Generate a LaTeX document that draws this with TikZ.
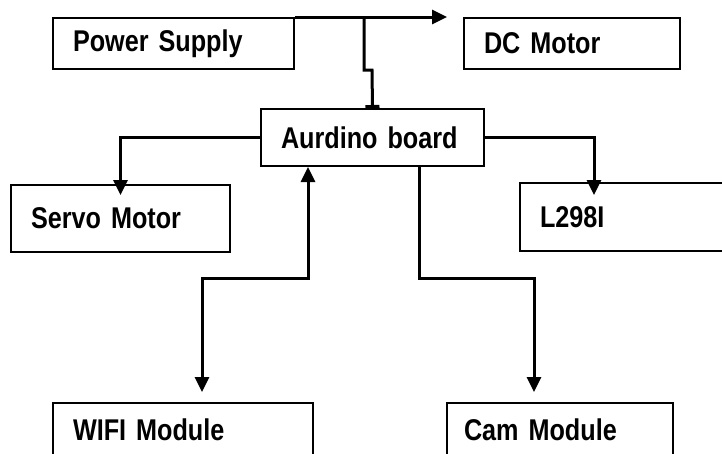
\documentclass[tikz,border=0pt]{standalone}
\usepackage{fontspec}
\setmainfont[FakeStretch=0.84]{Liberation Sans}
\usetikzlibrary{positioning, calc, arrows.meta}
\newcommand\tightsp{\spaceskip=6pt plus 1pt\relax}

\begin{document}
\begin{tikzpicture}[x=1pt, y=-1pt,
    blk/.style={draw, line width=2pt, anchor=north west, inner xsep=20pt, inner ysep=0pt,
        align=left, font=\fontsize{30}{32}\selectfont\bfseries\tightsp},
    wire/.style={line width=3pt},
    tip/.style={-{Triangle[width=14pt, length=15pt]}}]
    \useasboundingbox (0,0) rectangle (722,453);
    \clip (0,0) rectangle (722,453);

    \node[blk, text width=201pt, minimum height=51pt] (ps) at (52,17) {Power Supply};
    \node[blk, text width=176pt, minimum height=51pt] (dc) at (463,17) {DC Motor};
    \node[blk, text width=183pt, minimum height=57pt] (ard) at (260,108) {Aurdino board};
    \node[blk, text width=179pt, minimum height=67pt] (servo) at (10,184) {Servo Motor};
    \node[blk, text width=190pt, minimum height=68pt] (l298) at (519,182) {L298I};
    \node[blk, text width=220pt, minimum height=54pt] (wifi) at (52,402) {WIFI Module};
    \node[blk, text width=192pt, minimum height=54pt, inner xsep=17pt] (cam) at (446,402) {Cam Module};

    \coordinate (tap) at (364,18);
    \coordinate (lin) at (594,195);
    \coordinate (wifiin) at (202,392);
    \coordinate (camin) at (534,392);

    \draw[wire, tip] (ps.north east) -- ([xshift=-16pt]dc.north west);
    \draw[wire, -{Bar[width=14pt]}] (tap) -- ++(0,52) -- ++(8,0) -- (ard.north);
    \draw[wire, tip] (ard.west) -| ([yshift=-11pt]servo.north);
    \draw[wire, tip] (ard.east) -| (lin);
    \draw[wire, {Triangle[width=14pt, length=15pt]}-{Triangle[width=14pt, length=15pt]}]
        ($(ard.south west)+(48,0)$) -- (308,278) -| (wifiin);
    \draw[wire, tip] ($(ard.south west)+(159,0)$) -- (419,278) -| (camin);
\end{tikzpicture}
\end{document}
